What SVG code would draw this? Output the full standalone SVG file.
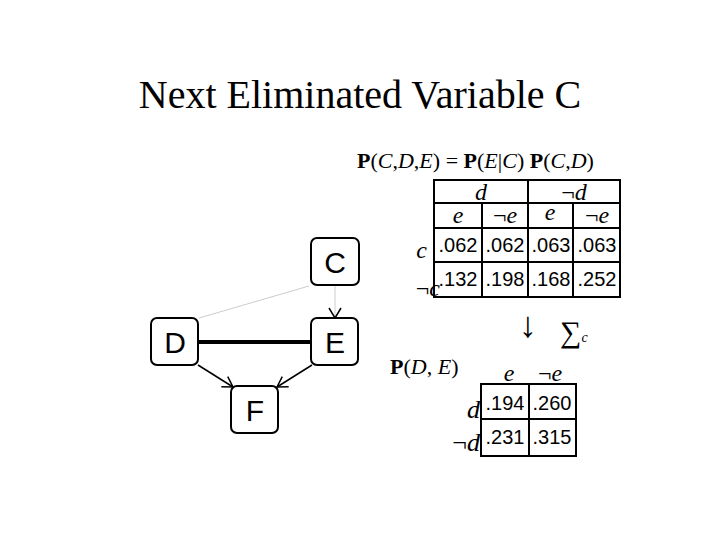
<svg xmlns="http://www.w3.org/2000/svg" width="720" height="540" viewBox="0 0 720 540">
<style>
.n{fill:#fff;stroke:#000;stroke-width:2}
.nt{font-family:"Liberation Sans",Arial,sans-serif;font-size:30px;text-anchor:middle}
.s{font-family:"Liberation Serif",serif}
.i{font-family:"Liberation Serif",serif;font-style:italic}
.num{font-family:"Liberation Sans",Arial,sans-serif;font-size:20px}
.g{fill:none;stroke:#000;stroke-width:2}
</style>
<defs><marker id="a" markerWidth="14" markerHeight="14" refX="12" refY="7" orient="auto" markerUnits="userSpaceOnUse"><path d="M2,1 L12,7 L2,13" fill="none" stroke="#000" stroke-width="1.5"/></marker></defs>
<rect width="720" height="540" fill="#fff"/>
<text x="360" y="108" class="s" font-size="40" text-anchor="middle">Next Eliminated Variable C</text>
<g id="connectors">
<line x1="309" y1="286" x2="199" y2="318" stroke="#ccc" stroke-width="1"/>
<line x1="335" y1="286" x2="335" y2="318" stroke="#ccc" stroke-width="1" marker-end="url(#a)"/>
<line x1="198" y1="342" x2="312" y2="342" stroke="#000" stroke-width="4"/>
<line x1="198" y1="365" x2="233" y2="387" stroke="#000" stroke-width="1.5" marker-end="url(#a)"/>
<line x1="312" y1="365" x2="277" y2="387" stroke="#000" stroke-width="1.5" marker-end="url(#a)"/>
</g>
<g id="C"><rect class="n" x="311" y="238" width="48" height="47" rx="6"/><text class="nt" x="335" y="273">C</text></g>
<g id="D"><rect class="n" x="151" y="318" width="47" height="47" rx="6"/><text class="nt" x="175" y="353">D</text></g>
<g id="E"><rect class="n" x="311" y="318" width="47" height="47" rx="6"/><text class="nt" x="335" y="353">E</text></g>
<g id="F"><rect class="n" x="231" y="386" width="47" height="47" rx="6"/><text class="nt" x="255" y="421">F</text></g>
<text x="357" y="168" font-size="22" class="s"><tspan font-weight="bold">P</tspan>(<tspan class="i">C</tspan>,<tspan class="i">D</tspan>,<tspan class="i">E</tspan>)  =  <tspan font-weight="bold">P</tspan>(<tspan class="i">E</tspan>|<tspan class="i">C</tspan>) <tspan font-weight="bold">P</tspan>(<tspan class="i">C</tspan>,<tspan class="i">D</tspan>)</text>
<g id="table1">
<rect class="g" x="434" y="180" width="186" height="117"/>
<line class="g" x1="434" y1="203" x2="620" y2="203"/>
<line class="g" x1="434" y1="228" x2="620" y2="228"/>
<line class="g" x1="434" y1="262" x2="620" y2="262"/>
<line class="g" x1="482" y1="203" x2="482" y2="297"/>
<line class="g" x1="528" y1="180" x2="528" y2="297"/>
<line class="g" x1="573" y1="203" x2="573" y2="297"/>
<g font-size="24" text-anchor="middle">
<text class="i" x="481" y="200">d</text><text class="s" x="574" y="200">¬<tspan class="i">d</tspan></text>
<text class="i" x="458" y="223">e</text><text class="s" x="505" y="223">¬<tspan class="i">e</tspan></text>
<text class="i" x="550" y="220">e</text><text class="s" x="597" y="223">¬<tspan class="i">e</tspan></text>
</g>
<text class="i" x="427" y="258" font-size="24" text-anchor="end">c</text>
<text class="s" x="440" y="296" font-size="24" text-anchor="end">¬<tspan class="i">c</tspan></text>
<g class="num" text-anchor="middle">
<text x="458" y="252">.062</text><text x="505" y="252">.062</text><text x="551" y="252">.063</text><text x="597" y="252">.063</text>
<text x="458" y="286">.132</text><text x="505" y="286">.198</text><text x="551" y="286">.168</text><text x="597" y="286">.252</text>
</g>
</g>
<text x="528" y="337" font-size="36" class="s" text-anchor="middle">↓</text>
<text x="560" y="342" font-size="30" class="s">∑<tspan class="i" font-size="14">c</tspan></text>
<text x="390" y="374" font-size="22" class="s"><tspan font-weight="bold">P</tspan>(<tspan class="i">D</tspan>, <tspan class="i">E</tspan>)</text>
<g id="table2">
<rect class="g" x="481" y="384" width="95" height="72"/>
<line class="g" x1="481" y1="419" x2="576" y2="419"/>
<line class="g" x1="529" y1="384" x2="529" y2="456"/>
<text class="i" x="509" y="381" font-size="24" text-anchor="middle">e</text>
<text class="s" x="550" y="381" font-size="24" text-anchor="middle">¬<tspan class="i">e</tspan></text>
<text class="i" x="480" y="418" font-size="26" text-anchor="end">d</text>
<text class="s" x="480" y="451" font-size="26" text-anchor="end">¬<tspan class="i">d</tspan></text>
<g class="num" text-anchor="middle">
<text x="505" y="410">.194</text><text x="552" y="410">.260</text>
<text x="505" y="444">.231</text><text x="552" y="444">.315</text>
</g>
</g>
</svg>
